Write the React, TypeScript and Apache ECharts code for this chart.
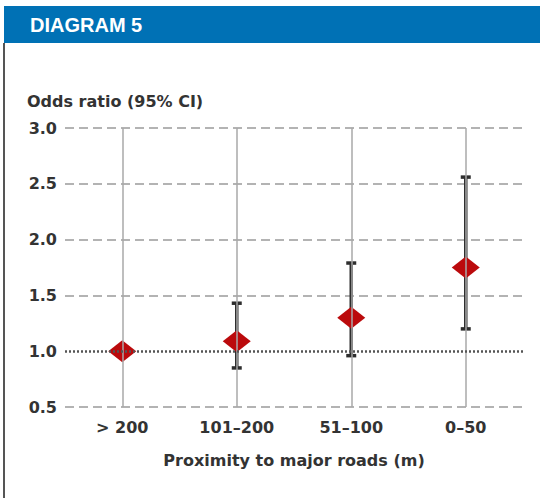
import React, { useEffect, useRef } from "react";
import * as echarts from "echarts";

const categories = ["> 200", "101–200", "51–100", "0–50"];
const oddsRatio = [1.0, 1.09, 1.3, 1.75];
const ciLower: (number | null)[] = [null, 0.85, 0.96, 1.2];
const ciUpper: (number | null)[] = [null, 1.43, 1.79, 2.56];
const yTicks = { min: 0.5, max: 3.0, interval: 0.5 };
const titleText = "DIAGRAM 5";
const yName = "Odds ratio (95% CI)";
const xName = "Proximity to major roads (m)";

const FONT = "DejaVu Sans";

export default function App() {
  const ref = useRef<HTMLDivElement>(null);
  useEffect(() => {
    if (!ref.current) return;
    const chart = echarts.init(ref.current, null, { renderer: "svg" });
    const ciData = categories
      .map((c, i) => (ciLower[i] != null && ciUpper[i] != null ? [i, ciLower[i], ciUpper[i]] : null))
      .filter((d) => d !== null);
    chart.setOption({
      animation: false,
      backgroundColor: "#ffffff",
      grid: { left: 65, right: 17, top: 128, bottom: 91 },
      graphic: [
        { type: "rect", shape: { x: 4, y: 6, width: 536, height: 37 }, style: { fill: "#0071b5" }, z: 10 },
        {
          type: "text",
          x: 30,
          y: 25,
          style: {
            text: titleText,
            fill: "#ffffff",
            font: "bold 20px 'Liberation Sans', Arial, sans-serif",
            textVerticalAlign: "middle",
          },
          z: 11,
        },
        { type: "line", shape: { x1: 4, y1: 43, x2: 4, y2: 498 }, style: { stroke: "#555", lineWidth: 2 }, z: 10 },
        {
          type: "text",
          x: 27,
          y: 101,
          style: {
            text: yName,
            fill: "#333",
            font: `bold 16px '${FONT}', sans-serif`,
            textVerticalAlign: "middle",
          },
          z: 11,
        },
      ],
      xAxis: {
        type: "category",
        data: categories,
        boundaryGap: true,
        axisLine: { show: false },
        axisTick: { show: false },
        splitLine: { show: false },
        axisLabel: { margin: 12, color: "#333", fontFamily: FONT, fontWeight: "bold", fontSize: 16 },
        name: xName,
        nameLocation: "middle",
        nameGap: 45,
        nameTextStyle: { color: "#333", fontFamily: FONT, fontWeight: "bold", fontSize: 16 },
      },
      yAxis: {
        type: "value",
        min: yTicks.min,
        max: yTicks.max,
        interval: yTicks.interval,
        axisLine: { show: false },
        axisTick: { show: false },
        axisLabel: {
          margin: 8,
          color: "#333",
          fontFamily: FONT,
          fontWeight: "bold",
          fontSize: 16,
          formatter: (v: number) => v.toFixed(1),
        },
        splitLine: {
          show: true,
          lineStyle: {
            color: ["#9a9a9a", "transparent", "#9a9a9a", "#9a9a9a", "#9a9a9a", "#9a9a9a"],
            width: 1.5,
            type: [9, 5],
          },
        },
      },
      series: [
        {
          type: "scatter",
          data: [],
          silent: true,
          markLine: {
            silent: true,
            symbol: "none",
            label: { show: false },
            lineStyle: { color: "#a8a8a8", width: 1.5, type: "solid" },
            data: categories.map((c) => ({ xAxis: c })),
          },
          z: 1,
        },
        {
          type: "scatter",
          data: [],
          silent: true,
          markLine: {
            silent: true,
            symbol: "none",
            label: { show: false },
            lineStyle: { color: "#555", width: 2.5, type: [2, 2] },
            data: [{ yAxis: 1.0 }],
          },
          z: 2,
        },
        {
          type: "custom",
          data: ciData,
          z: 3,
          renderItem: (params: any, api: any) => {
            const x = api.value(0);
            const lo = api.coord([x, api.value(1)]);
            const hi = api.coord([x, api.value(2)]);
            const capW = 5;
            const st = { stroke: "#2e2e2e", lineWidth: 3.5 };
            return {
              type: "group",
              children: [
                { type: "line", shape: { x1: lo[0], y1: lo[1], x2: hi[0], y2: hi[1] }, style: st },
                { type: "line", shape: { x1: hi[0] - capW, y1: hi[1], x2: hi[0] + capW, y2: hi[1] }, style: st },
                { type: "line", shape: { x1: lo[0] - capW, y1: lo[1], x2: lo[0] + capW, y2: lo[1] }, style: st },
              ],
            };
          },
        },
        {
          type: "scatter",
          data: oddsRatio,
          symbol: "diamond",
          symbolSize: [28, 22],
          itemStyle: { color: "#bb0a0c", opacity: 1 },
          z: 4,
        },
      ],
    });
    return () => chart.dispose();
  }, []);
  return (
    <div
      ref={ref}
      style={{ position: "fixed", left: 0, top: 0, width: 540, height: 498, background: "#fff" }}
    />
  );
}
